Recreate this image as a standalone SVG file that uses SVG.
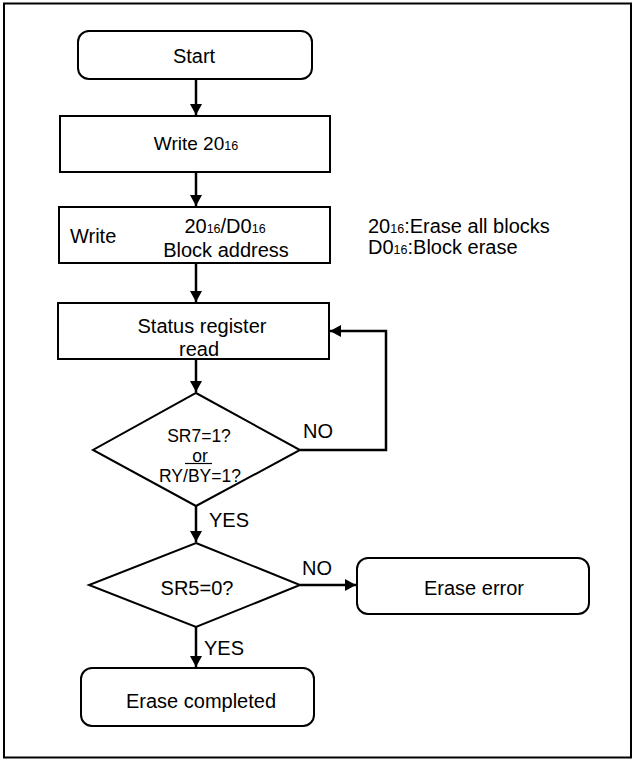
<svg xmlns="http://www.w3.org/2000/svg" width="637" height="760" viewBox="0 0 637 760">
<style>
.shape{fill:#fff;stroke:#000;stroke-width:2}
.conn{fill:none;stroke:#000;stroke-width:2.5}
text{font-family:"Liberation Sans",Arial,sans-serif;font-size:20px;fill:#000}
.c{text-anchor:middle}
.sub{font-size:12.5px}
.sm{font-size:17.5px}
</style>
<defs>
<marker id="arr" markerUnits="userSpaceOnUse" markerWidth="12" markerHeight="12" refX="11" refY="6" orient="auto">
<path d="M0,0 L11,6 L0,12 z" fill="#000"/>
</marker>
</defs>
<rect x="4" y="3.5" width="627" height="754" fill="#fff" stroke="#000" stroke-width="2"/>
<g id="connectors">
<line class="conn" x1="196" y1="79" x2="196" y2="115" marker-end="url(#arr)"/>
<line class="conn" x1="196" y1="172" x2="196" y2="206" marker-end="url(#arr)"/>
<line class="conn" x1="196" y1="263" x2="196" y2="302" marker-end="url(#arr)"/>
<line class="conn" x1="196" y1="359" x2="196" y2="392" marker-end="url(#arr)"/>
<polyline class="conn" points="300,450 386,450 386,331 330,331" marker-end="url(#arr)"/>
<line class="conn" x1="196" y1="506" x2="196" y2="542" marker-end="url(#arr)"/>
<line class="conn" x1="300" y1="585" x2="356" y2="585" marker-end="url(#arr)"/>
<line class="conn" x1="196" y1="627" x2="196" y2="667" marker-end="url(#arr)"/>
<text x="303" y="438">NO</text>
<text x="209" y="527">YES</text>
<text x="302" y="575">NO</text>
<text x="204" y="655">YES</text>
</g>
<g id="start">
<rect class="shape" x="78" y="31" width="234" height="48" rx="11"/>
<text class="c" x="194" y="63">Start</text>
</g>
<g id="write20">
<rect class="shape" x="60" y="116" width="270" height="56"/>
<text class="c" x="196" y="150" style="font-size:19px">Write 20<tspan class="sub">16</tspan></text>
</g>
<g id="writeBlock">
<rect class="shape" x="59" y="207" width="271" height="56"/>
<text x="70" y="243">Write</text>
<text class="c" x="225" y="233">20<tspan class="sub">16</tspan>/D0<tspan class="sub">16</tspan></text>
<text class="c" x="226" y="257">Block address</text>
</g>
<g id="note">
<text x="368" y="233">20<tspan class="sub">16</tspan>:Erase all blocks</text>
<text x="368" y="254">D0<tspan class="sub">16</tspan>:Block erase</text>
</g>
<g id="statusRead">
<rect class="shape" x="58" y="303" width="271" height="56"/>
<text class="c" x="202" y="333">Status register</text>
<text class="c" x="199" y="356">read</text>
</g>
<g id="decision1">
<polygon class="shape" points="196,393 300,450 196,506 93,450"/>
<text class="c sm" x="199" y="442">SR7=1?</text>
<text class="c sm" x="200" y="461.5">or</text>
<line x1="185" y1="463.5" x2="212" y2="463.5" stroke="#000" stroke-width="1.2"/>
<text class="c sm" x="200" y="482">RY/BY=1?</text>
</g>
<g id="decision2">
<polygon class="shape" points="196,543 300,585 196,627 89,585"/>
<text class="c" x="197" y="595">SR5=0?</text>
</g>
<g id="eraseError">
<rect class="shape" x="357" y="558" width="232" height="56" rx="11"/>
<text class="c" x="474" y="595">Erase error</text>
</g>
<g id="eraseCompleted">
<rect class="shape" x="81" y="668" width="233" height="58" rx="11"/>
<text class="c" x="201" y="708">Erase completed</text>
</g>
</svg>
